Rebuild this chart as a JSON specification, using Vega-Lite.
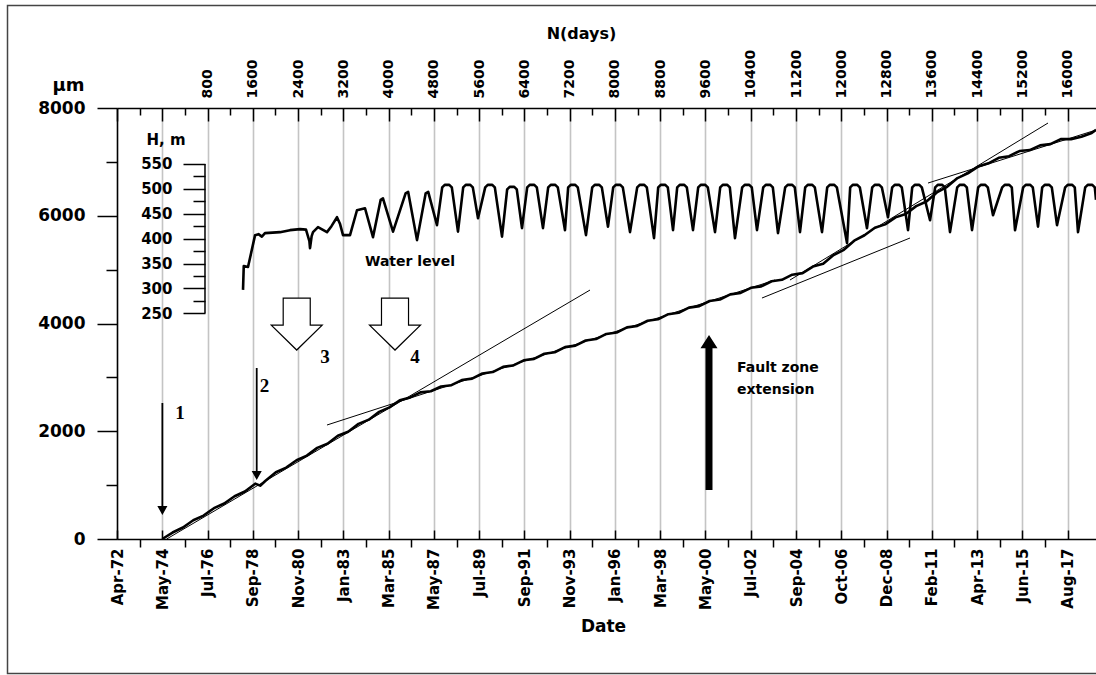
{
"$schema":"https://vega.github.io/schema/vega-lite/v6.json",
"width":979,"height":431,"autosize":"none",
"padding":{"left":117,"top":108,"right":0,"bottom":136},
"background":"white",
"config":{"view":{"stroke":null}},
"datasets":{
"curve":[{"day":0,"um":0},{"day":182,"um":120},{"day":365,"um":213},{"day":548,"um":349},{"day":730,"um":435},{"day":913,"um":572},{"day":1095,"um":658},{"day":1278,"um":794},{"day":1460,"um":881},{"day":1643,"um":1027},{"day":1730,"um":990},{"day":1825,"um":1080},{"day":2008,"um":1240},{"day":2190,"um":1326},{"day":2373,"um":1462},{"day":2555,"um":1547},{"day":2738,"um":1692},{"day":2920,"um":1769},{"day":3103,"um":1915},{"day":3285,"um":1992},{"day":3468,"um":2137},{"day":3650,"um":2215},{"day":3833,"um":2360},{"day":4015,"um":2443},{"day":4198,"um":2576},{"day":4380,"um":2628},{"day":4563,"um":2721},{"day":4745,"um":2742},{"day":4928,"um":2830},{"day":5110,"um":2855},{"day":5293,"um":2950},{"day":5475,"um":2977},{"day":5658,"um":3072},{"day":5840,"um":3099},{"day":6023,"um":3195},{"day":6205,"um":3222},{"day":6388,"um":3317},{"day":6570,"um":3344},{"day":6753,"um":3439},{"day":6935,"um":3466},{"day":7118,"um":3561},{"day":7300,"um":3589},{"day":7483,"um":3684},{"day":7665,"um":3711},{"day":7848,"um":3806},{"day":8030,"um":3833},{"day":8213,"um":3928},{"day":8395,"um":3955},{"day":8578,"um":4051},{"day":8760,"um":4078},{"day":8943,"um":4173},{"day":9125,"um":4200},{"day":9308,"um":4295},{"day":9490,"um":4322},{"day":9673,"um":4418},{"day":9855,"um":4445},{"day":10038,"um":4540},{"day":10220,"um":4567},{"day":10403,"um":4662},{"day":10585,"um":4689},{"day":10768,"um":4784},{"day":10950,"um":4811},{"day":11133,"um":4906},{"day":11315,"um":4935},{"day":11498,"um":5056},{"day":11680,"um":5109},{"day":11863,"um":5270},{"day":12045,"um":5368},{"day":12228,"um":5537},{"day":12410,"um":5638},{"day":12593,"um":5777},{"day":12775,"um":5840},{"day":12958,"um":5970},{"day":13140,"um":6032},{"day":13323,"um":6178},{"day":13505,"um":6265},{"day":13688,"um":6432},{"day":13870,"um":6537},{"day":14053,"um":6699},{"day":14235,"um":6786},{"day":14418,"um":6913},{"day":14600,"um":6973},{"day":14783,"um":7076},{"day":14965,"um":7106},{"day":15148,"um":7201},{"day":15330,"um":7219},{"day":15513,"um":7306},{"day":15695,"um":7330},{"day":15878,"um":7422},{"day":16060,"um":7422},{"day":16243,"um":7466},{"day":16425,"um":7537},{"day":16501,"um":7595}],
"trend":[{"seg":1,"day":78,"um":0},{"seg":1,"day":7559,"um":4621},{"seg":2,"day":2911,"um":2116},{"seg":2,"day":10828,"um":4807},{"seg":3,"day":10598,"um":4473},{"seg":3,"day":13214,"um":5587},{"seg":4,"day":11093,"um":4807},{"seg":4,"day":15653,"um":7721},{"seg":5,"day":13532,"um":6607},{"seg":5,"day":16501,"um":7591}],
"marks":[{"kind":"thin","day":2,"um":1485},{"kind":"thin","day":1669,"um":2134},{"kind":"hollow","day":2376,"um":3990},{"kind":"hollow","day":4113,"um":3990},{"kind":"big","day":9662,"um":2348}],
"texts":[{"grp":"c","txt":"Water level","day":4378,"um":5141},{"grp":"l","txt":"Fault zone","day":10157,"um":3174},{"grp":"l","txt":"extension","day":10157,"um":2765},{"grp":"h","txt":"H, m","day":66,"um":7405},{"grp":"n","txt":"1","day":314,"um":2339},{"grp":"n","txt":"2","day":1805,"um":2840},{"grp":"n","txt":"3","day":2876,"um":3378},{"grp":"n","txt":"4","day":4467,"um":3378}],
"frame":[{"day":-2735,"day2":17500,"um":9902,"um2":-2496}],
"hrule":[{"day":755,"H":250,"H2":550}],
"water":[{"day":1427,"H":297},{"day":1440,"H":345},{"day":1515,"H":343},{"day":1570,"H":371},{"day":1640,"H":407},{"day":1700,"H":409},{"day":1760,"H":404},{"day":1815,"H":411},{"day":1950,"H":412},{"day":2080,"H":413},{"day":2257,"H":417},{"day":2434,"H":419},{"day":2540,"H":418},{"day":2600,"H":395},{"day":2611,"H":381},{"day":2640,"H":405},{"day":2664,"H":413},{"day":2752,"H":423},{"day":2911,"H":413},{"day":2990,"H":425},{"day":3088,"H":443},{"day":3140,"H":430},{"day":3194,"H":407},{"day":3318,"H":407},{"day":3441,"H":457},{"day":3583,"H":461},{"day":3724,"H":403},{"day":3860,"H":478},{"day":3900,"H":481},{"day":4078,"H":414},{"day":4300,"H":491},{"day":4345,"H":494},{"day":4502,"H":397},{"day":4655,"H":491},{"day":4700,"H":494},{"day":4855,"H":427},
{"day":4947,"H":503},{"day":4992,"H":508},{"day":5072,"H":508},{"day":5117,"H":503},{"day":5226,"H":414},
{"day":5318,"H":503},{"day":5363,"H":508},{"day":5443,"H":508},{"day":5488,"H":503},{"day":5580,"H":441},
{"day":5707,"H":503},{"day":5752,"H":508},{"day":5832,"H":508},{"day":5877,"H":503},{"day":6004,"H":404},
{"day":6095,"H":499},{"day":6140,"H":504},{"day":6220,"H":504},{"day":6265,"H":499},{"day":6357,"H":421},
{"day":6449,"H":503},{"day":6494,"H":508},{"day":6574,"H":508},{"day":6619,"H":503},{"day":6728,"H":421},
{"day":6820,"H":503},{"day":6865,"H":508},{"day":6945,"H":508},{"day":6990,"H":503},{"day":7117,"H":417},
{"day":7173,"H":503},{"day":7218,"H":508},{"day":7298,"H":508},{"day":7343,"H":503},{"day":7488,"H":407},
{"day":7598,"H":503},{"day":7643,"H":508},{"day":7723,"H":508},{"day":7768,"H":503},{"day":7877,"H":424},
{"day":7969,"H":503},{"day":8014,"H":508},{"day":8094,"H":508},{"day":8139,"H":503},{"day":8266,"H":413},
{"day":8393,"H":503},{"day":8438,"H":508},{"day":8518,"H":508},{"day":8563,"H":503},{"day":8690,"H":401},
{"day":8764,"H":503},{"day":8809,"H":508},{"day":8889,"H":508},{"day":8934,"H":503},{"day":9026,"H":417},
{"day":9100,"H":503},{"day":9145,"H":508},{"day":9225,"H":508},{"day":9270,"H":503},{"day":9379,"H":417},
{"day":9471,"H":503},{"day":9516,"H":508},{"day":9596,"H":508},{"day":9641,"H":503},{"day":9768,"H":413},
{"day":9860,"H":503},{"day":9905,"H":508},{"day":9985,"H":508},{"day":10030,"H":503},{"day":10121,"H":401},
{"day":10248,"H":503},{"day":10293,"H":508},{"day":10373,"H":508},{"day":10418,"H":503},{"day":10510,"H":417},
{"day":10620,"H":503},{"day":10665,"H":508},{"day":10745,"H":508},{"day":10790,"H":503},{"day":10881,"H":411},
{"day":11008,"H":503},{"day":11053,"H":508},{"day":11133,"H":508},{"day":11178,"H":503},{"day":11270,"H":413},
{"day":11362,"H":503},{"day":11407,"H":508},{"day":11487,"H":508},{"day":11532,"H":503},{"day":11659,"H":413},
{"day":11751,"H":503},{"day":11796,"H":508},{"day":11876,"H":508},{"day":11921,"H":503},{"day":12101,"H":391},
{"day":12157,"H":503},{"day":12202,"H":508},{"day":12282,"H":508},{"day":12327,"H":503},{"day":12454,"H":421},
{"day":12546,"H":503},{"day":12591,"H":508},{"day":12671,"H":508},{"day":12716,"H":503},{"day":12825,"H":443},
{"day":12899,"H":503},{"day":12944,"H":508},{"day":13024,"H":508},{"day":13069,"H":503},{"day":13179,"H":417},
{"day":13253,"H":503},{"day":13298,"H":508},{"day":13378,"H":508},{"day":13423,"H":503},{"day":13568,"H":437},
{"day":13659,"H":503},{"day":13704,"H":508},{"day":13784,"H":508},{"day":13829,"H":503},{"day":13921,"H":413},
{"day":14048,"H":503},{"day":14093,"H":508},{"day":14173,"H":508},{"day":14218,"H":503},{"day":14310,"H":417},
{"day":14419,"H":503},{"day":14464,"H":508},{"day":14544,"H":508},{"day":14589,"H":503},{"day":14681,"H":447},
{"day":14843,"H":503},{"day":14888,"H":508},{"day":14968,"H":508},{"day":15013,"H":503},{"day":15070,"H":417},
{"day":15214,"H":503},{"day":15259,"H":508},{"day":15339,"H":508},{"day":15384,"H":503},{"day":15476,"H":424},
{"day":15550,"H":503},{"day":15595,"H":508},{"day":15675,"H":508},{"day":15720,"H":503},{"day":15812,"H":427},
{"day":15956,"H":503},{"day":16001,"H":508},{"day":16081,"H":508},{"day":16126,"H":503},{"day":16183,"H":413},
{"day":16310,"H":503},{"day":16355,"H":508},{"day":16435,"H":508},{"day":16480,"H":503},{"day":16501,"H":478}]
},
"layer":[
{
"layer":[
{"data":{"name":"frame"},"mark":{"type":"rect","fill":null,"stroke":"#444","strokeWidth":1.5},
 "encoding":{"x":{"field":"day","type":"quantitative","scale":{"domain":[-800,16501],"nice":false,"zero":false},"axis":null},"x2":{"field":"day2"},
 "y":{"field":"um","type":"quantitative","scale":{"domain":[0,8000],"nice":false,"zero":false},"axis":null},"y2":{"field":"um2"}}},
{"data":{"name":"curve"},"mark":{"type":"line","color":"black","strokeWidth":2.6,"strokeJoin":"round"},
 "encoding":{
 "x":{"field":"day","type":"quantitative","scale":{"domain":[-800,16501],"nice":false,"zero":false},
  "axis":{"orient":"bottom","values":[-800,-400,0,400,800,1200,1600,2000,2400,2800,3200,3600,4000,4400,4800,5200,5600,6000,6400,6800,7200,7600,8000,8400,8800,9200,9600,10000,10400,10800,11200,11600,12000,12400,12800,13200,13600,14000,14400,14800,15200,15600,16000],
  "labelExpr":"datum.value % 800 === 0 ? ['Apr-72','May-74','Jul-76','Sep-78','Nov-80','Jan-83','Mar-85','May-87','Jul-89','Sep-91','Nov-93','Jan-96','Mar-98','May-00','Jul-02','Sep-04','Oct-06','Dec-08','Feb-11','Apr-13','Jun-15','Aug-17'][round(datum.value/800)+1] : ''",
  "labelAngle":-90,"labelFont":"DejaVu Sans","labelFontWeight":"bold","labelFontSize":15,"labelColor":"black","labelPadding":18,"labelOverlap":false,"labelBound":false,"labelFlush":false,
  "tickSize":{"condition":{"test":"datum.value % 800 === 0","value":-9},"value":8},"tickColor":"black","tickWidth":1.5,
  "domainColor":"black","domainWidth":1.5,
  "grid":true,"gridColor":"#c4c4c4","gridWidth":1.6,"gridOpacity":{"condition":{"test":"datum.value % 800 === 0","value":1},"value":0},
  "title":"Date","titleFont":"DejaVu Sans","titleFontWeight":"bold","titleFontSize":17,"titleColor":"black","titleX":486,"titleY":87,"titleAlign":"center","titleBaseline":"middle","titleAngle":0}},
 "y":{"field":"um","type":"quantitative","scale":{"domain":[0,8000],"nice":false,"zero":false},
  "axis":{"orient":"left","values":[0,1000,2000,3000,4000,5000,6000,7000,8000],"labelExpr":"datum.value % 2000 === 0 ? datum.value + '' : ''",
  "labelFont":"DejaVu Sans","labelFontWeight":"bold","labelFontSize":17,"labelColor":"black","labelPadding":12,"labelOverlap":false,"labelBound":false,"labelFlush":false,
  "tickSize":{"condition":{"test":"datum.value % 2000 === 0","value":20},"value":11},"tickColor":"black","tickWidth":1.5,"domainColor":"black","domainWidth":1.5,"grid":false,
  "title":"µm","titleAngle":0,"titleX":-49,"titleY":-23,"titleAlign":"center","titleBaseline":"middle","titleFont":"DejaVu Sans","titleFontWeight":"bold","titleFontSize":18,"titleColor":"black"}}}},
{"data":{"name":"trend"},"mark":{"type":"line","color":"black","strokeWidth":1},
 "encoding":{
 "x":{"field":"day","type":"quantitative","scale":{"domain":[-800,16501],"nice":false,"zero":false},
  "axis":{"orient":"top","values":[-800,-400,0,400,800,1200,1600,2000,2400,2800,3200,3600,4000,4400,4800,5200,5600,6000,6400,6800,7200,7600,8000,8400,8800,9200,9600,10000,10400,10800,11200,11600,12000,12400,12800,13200,13600,14000,14400,14800,15200,15600,16000],
  "labelExpr":"datum.value > 0 && datum.value % 800 === 0 ? datum.value + '' : ''",
  "labelAngle":-90,"labelFont":"DejaVu Sans","labelFontWeight":"bold","labelFontSize":14,"labelColor":"black","labelPadding":23,"labelOverlap":false,"labelBound":false,"labelFlush":false,
  "tickSize":{"condition":{"test":"datum.value % 800 === 0","value":-13},"value":-7},"tickColor":"black","tickWidth":1.5,
  "domainColor":"black","domainWidth":1.5,"grid":false,
  "title":"N(days)","titleFont":"DejaVu Sans","titleFontWeight":"bold","titleFontSize":16,"titleColor":"black","titleX":464,"titleY":-75,"titleAlign":"center","titleBaseline":"middle","titleAngle":0}},
 "y":{"field":"um","type":"quantitative","scale":{"domain":[0,8000],"nice":false,"zero":false},"axis":null},
 "detail":{"field":"seg","type":"nominal"}}},
{"data":{"name":"marks"},"transform":[{"filter":"datum.kind === 'thin'"}],
 "mark":{"type":"point","shape":"M-0.016,-1L0.016,-1L0.016,0.84L0.09,0.84L0,1L-0.09,0.84L-0.016,0.84Z","size":12544,"filled":true,"fill":"black","strokeWidth":0,"opacity":1},
 "encoding":{"x":{"field":"day","type":"quantitative","scale":{"domain":[-800,16501],"nice":false,"zero":false},"axis":null},
 "y":{"field":"um","type":"quantitative","scale":{"domain":[0,8000],"nice":false,"zero":false},"axis":null}}},
{"data":{"name":"marks"},"transform":[{"filter":"datum.kind === 'hollow'"}],
 "mark":{"type":"point","shape":"M-0.52,-1L0.52,-1L0.52,0.04L0.98,0.04L0,1L-0.98,0.04L-0.52,0.04Z","size":2704,"filled":true,"fill":"white","stroke":"black","strokeWidth":1.2,"opacity":1},
 "encoding":{"x":{"field":"day","type":"quantitative","scale":{"domain":[-800,16501],"nice":false,"zero":false},"axis":null},
 "y":{"field":"um","type":"quantitative","scale":{"domain":[0,8000],"nice":false,"zero":false},"axis":null}}},
{"data":{"name":"marks"},"transform":[{"filter":"datum.kind === 'big'"}],
 "mark":{"type":"point","shape":"M0,-1L0.11,-0.83L0.045,-0.83L0.045,1L-0.045,1L-0.045,-0.83L-0.11,-0.83Z","size":24025,"filled":true,"fill":"black","strokeWidth":0,"opacity":1},
 "encoding":{"x":{"field":"day","type":"quantitative","scale":{"domain":[-800,16501],"nice":false,"zero":false},"axis":null},
 "y":{"field":"um","type":"quantitative","scale":{"domain":[0,8000],"nice":false,"zero":false},"axis":null}}},
{"data":{"name":"texts"},"transform":[{"filter":"datum.grp === 'c'"}],
 "mark":{"type":"text","font":"DejaVu Sans","fontWeight":"bold","fontSize":14,"color":"black","align":"center","baseline":"middle"},
 "encoding":{"x":{"field":"day","type":"quantitative","scale":{"domain":[-800,16501],"nice":false,"zero":false},"axis":null},
 "y":{"field":"um","type":"quantitative","scale":{"domain":[0,8000],"nice":false,"zero":false},"axis":null},"text":{"field":"txt"}}},
{"data":{"name":"texts"},"transform":[{"filter":"datum.grp === 'l'"}],
 "mark":{"type":"text","font":"DejaVu Sans","fontWeight":"bold","fontSize":14,"color":"black","align":"left","baseline":"middle"},
 "encoding":{"x":{"field":"day","type":"quantitative","scale":{"domain":[-800,16501],"nice":false,"zero":false},"axis":null},
 "y":{"field":"um","type":"quantitative","scale":{"domain":[0,8000],"nice":false,"zero":false},"axis":null},"text":{"field":"txt"}}},
{"data":{"name":"texts"},"transform":[{"filter":"datum.grp === 'h'"}],
 "mark":{"type":"text","font":"DejaVu Sans","fontWeight":"bold","fontSize":15,"color":"black","align":"center","baseline":"middle"},
 "encoding":{"x":{"field":"day","type":"quantitative","scale":{"domain":[-800,16501],"nice":false,"zero":false},"axis":null},
 "y":{"field":"um","type":"quantitative","scale":{"domain":[0,8000],"nice":false,"zero":false},"axis":null},"text":{"field":"txt"}}},
{"data":{"name":"texts"},"transform":[{"filter":"datum.grp === 'n'"}],
 "mark":{"type":"text","font":"Liberation Serif","fontWeight":"bold","fontSize":19,"color":"black","align":"center","baseline":"middle"},
 "encoding":{"x":{"field":"day","type":"quantitative","scale":{"domain":[-800,16501],"nice":false,"zero":false},"axis":null},
 "y":{"field":"um","type":"quantitative","scale":{"domain":[0,8000],"nice":false,"zero":false},"axis":null},"text":{"field":"txt"}}}
],
"resolve":{"axis":{"x":"independent","y":"independent"}}
},
{
"layer":[
{"data":{"name":"water"},"mark":{"type":"line","color":"black","strokeWidth":2.6,"strokeJoin":"round"},
 "encoding":{"x":{"field":"day","type":"quantitative","scale":{"domain":[-800,16501],"nice":false,"zero":false},"axis":null},
 "y":{"field":"H","type":"quantitative","scale":{"domain":[-203.4,662.4],"nice":false,"zero":false},
  "axis":{"orient":"left","offset":-88,"values":[250,275,300,325,350,375,400,425,450,475,500,525,550],"labelExpr":"datum.value % 50 === 0 ? datum.value + '' : ''",
  "labelFont":"DejaVu Sans","labelFontWeight":"bold","labelFontSize":15,"labelColor":"black","labelPadding":11,"labelOverlap":false,"labelBound":false,"labelFlush":false,
  "tickSize":{"condition":{"test":"datum.value % 50 === 0","value":22},"value":12},"tickColor":"black","tickWidth":1.5,"domain":false,"grid":false,"title":null}}}},
{"data":{"name":"hrule"},"mark":{"type":"rule","color":"black","strokeWidth":1.5},
 "encoding":{"x":{"field":"day","type":"quantitative","scale":{"domain":[-800,16501],"nice":false,"zero":false},"axis":null},
 "y":{"field":"H","type":"quantitative","scale":{"domain":[-203.4,662.4],"nice":false,"zero":false},"axis":null},"y2":{"field":"H2"}}}
],
"resolve":{"axis":{"y":"independent"}}
}
],
"resolve":{"scale":{"y":"independent"},"axis":{"x":"independent","y":"independent"}}
}
